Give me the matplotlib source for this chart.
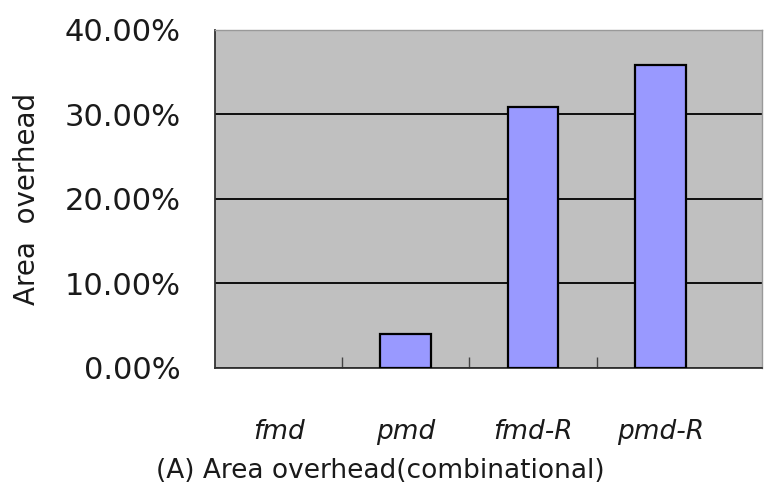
import matplotlib.pyplot as plt
import numpy as np
from matplotlib.ticker import FuncFormatter

# data
categories = ['fmd', 'pmd', 'fmd-R', 'pmd-R']
overhead = [0.0, 4.0, 30.9, 35.9]   # percent
y_ticks = [0, 10, 20, 30, 40]

fig = plt.figure(figsize=(7.67, 4.90), dpi=100)
ax = fig.add_axes([0.2803, 0.249, 0.7132, 0.690])

x = np.arange(len(categories))
ax.set_facecolor('#C0C0C0')
ax.set_axisbelow(True)
ax.yaxis.grid(True, color='black', linewidth=1.3)
# zero-height bars leave no visible mark in the original
edge_w = [1.6 if v > 0 else 0 for v in overhead]
ax.bar(x, overhead, width=0.4, color='#9999FF', edgecolor='black', linewidth=edge_w, zorder=3)

ax.set_ylim(0, 40)
ax.set_xlim(-0.5, 3.8)
ax.set_yticks(y_ticks)
ax.yaxis.set_major_formatter(FuncFormatter(lambda v, p: f'{v:.2f}%'))
ax.tick_params(axis='y', length=0, pad=25, labelsize=22, labelcolor='#1a1a1a')

ax.set_xticks(x)
ax.set_xticklabels(categories, fontstyle='italic', fontsize=19, color='#1a1a1a')
ax.set_xticks([0.5, 1.5, 2.5], minor=True)
ax.tick_params(axis='x', which='major', length=0, pad=37)
ax.tick_params(axis='x', which='minor', direction='in', length=8, width=1, color='#444444')

for side in ['left', 'bottom']:
    ax.spines[side].set_color('#333333')
    ax.spines[side].set_linewidth(1.3)
for side in ['top', 'right']:
    ax.spines[side].set_color('#999999')
    ax.spines[side].set_linewidth(1.0)

ax.set_ylabel('Area  overhead', fontsize=20, color='#1a1a1a')
ax.yaxis.set_label_coords(-0.318, 0.5)
ax.set_xlabel('(A) Area overhead(combinational)', fontsize=19, color='#1a1a1a')
ax.xaxis.set_label_coords(0.303, -0.265)

fig.savefig('out.png', dpi=100)
